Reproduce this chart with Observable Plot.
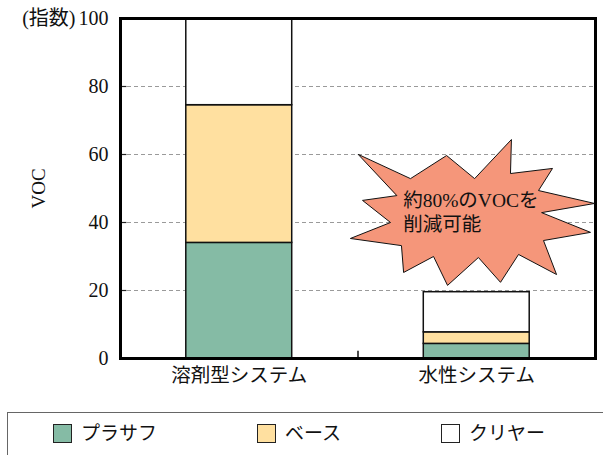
<!DOCTYPE html>
<html><head><meta charset="utf-8">
<script src="https://cdn.jsdelivr.net/npm/d3@7"></script>
<script src="https://cdn.jsdelivr.net/npm/@observablehq/plot@0.6"></script>
<style>
body{margin:0;background:#fff;width:603px;height:455px;overflow:hidden;font-family:"Liberation Serif","Times New Roman","DejaVu Serif","Noto Sans CJK JP",serif;position:relative;}
#legend{position:absolute;left:7px;top:412px;width:640px;height:70px;border:1.5px solid #666;box-sizing:border-box;display:flex;align-items:flex-start;padding-left:45px;padding-top:11px;gap:100px;}
.item{display:flex;align-items:center;font-size:19px;line-height:19px;color:#111;}
.sw{width:19px;height:19px;border:1.3px solid #222;box-sizing:border-box;margin-right:9px;}
svg text{font-family:"Liberation Serif","Times New Roman","DejaVu Serif","Noto Sans CJK JP",serif !important;}
</style></head><body>
<div id="chart"></div>
<div id="legend"></div>
<script>
const categories = ["溶剤型システム", "水性システム"];
const layers = ["プラサフ", "ベース", "クリヤー"];
const primer = [34, 4.3];
const base = [40.5, 3.4];
const clear = [25.5, 11.8];
const layerColors = ["#85BBA5", "#FFE0A0", "#FFFFFF"];
const yTicks = [0, 20, 40, 60, 80, 100];
const gridTicks = [20, 40, 60, 80];
const yUnit = "(指数)";
const yLabel = "VOC";
const noteLines = ["約80%のVOCを", "削減可能"];
const starX = [1.002, 1.221, 1.373, 1.491, 1.646, 1.642, 1.819, 1.760, 1.996, 1.773, 1.979, 1.781, 1.836, 1.676, 1.600, 1.507, 1.377, 1.318, 1.192, 1.183, 0.968, 1.137, 1.019, 1.162];
const starY = [60.0, 52.9, 59.7, 52.9, 64.4, 54.4, 55.9, 49.4, 45.6, 42.9, 37.1, 34.7, 24.7, 30.6, 22.4, 29.7, 21.5, 30.0, 25.3, 33.2, 35.3, 40.0, 46.5, 47.9];

const series = [primer, base, clear];
const rows = [];
categories.forEach((c, i) => {
  let acc = 0;
  series.forEach((s, k) => {
    rows.push({cat: c, i, layer: layers[k], color: layerColors[k], y1: acc, y2: acc + s[i]});
    acc += s[i];
  });
});
const star = starX.map((x, i) => ({x, y: starY[i]}));
const halfBar = 0.223;

const chart = Plot.plot({
  width: 603,
  height: 405,
  marginLeft: 120,
  marginRight: 8,
  marginTop: 18,
  marginBottom: 47,
  style: {background: "#fff"},
  x: {domain: [0, categories.length], axis: null},
  y: {domain: [0, 100], axis: null},
  marks: [
    Plot.ruleY(gridTicks, {stroke: "#9a9a9a", strokeDasharray: "4,3", strokeWidth: 1}),
    Plot.ruleY(gridTicks, {x1: 0, x2: 0.027, stroke: "#222", strokeWidth: 1.2}),
    Plot.rectY(rows, {x1: d => d.i + 0.5 - halfBar, x2: d => d.i + 0.5 + halfBar, y1: "y1", y2: "y2", fill: d => d.color, stroke: "#111", strokeWidth: 1.5}),
    Plot.ruleX([1], {y1: 0, y2: 2.1, stroke: "#111", strokeWidth: 1.5}),
    Plot.frame({stroke: "#000", strokeWidth: 3}),
    Plot.line(star, {x: "x", y: "y", curve: "linear-closed", fill: "#F5967A", stroke: "#111", strokeWidth: 1}),
    Plot.text([noteLines.join("\n")], {x: 1.19, y: 43.4, textAnchor: "start", lineHeight: 1.25, fontSize: 19.5, fill: "#111"}),
    Plot.text(yTicks, {y: d => d, text: d => String(d), frameAnchor: "left", textAnchor: "end", dx: -12, fontSize: 20, fill: "#111"}),
    Plot.text([yUnit], {y: [100], frameAnchor: "left", textAnchor: "end", dx: -45, fontSize: 20, fill: "#111"}),
    Plot.text([yLabel], {frameAnchor: "left", dx: -82, dy: 20, rotate: -90, fontSize: 19, fill: "#111"}),
    Plot.text(categories, {x: (d, i) => i + 0.5, frameAnchor: "bottom", dy: 23, fontSize: 19.5, fill: "#111"})
  ]
});
document.getElementById("chart").appendChild(chart);

const legend = document.getElementById("legend");
layers.forEach((name, k) => {
  const item = document.createElement("div");
  item.className = "item";
  const sw = document.createElement("span");
  sw.className = "sw";
  sw.style.background = layerColors[k];
  const t = document.createElement("span");
  t.textContent = name;
  item.appendChild(sw);
  item.appendChild(t);
  legend.appendChild(item);
});
</script>
</body></html>
